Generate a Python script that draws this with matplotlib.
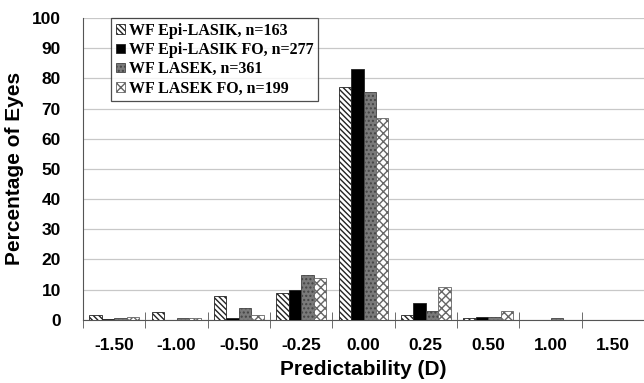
import numpy as np
import matplotlib.pyplot as plt

# Categories and series (percentage of eyes)
categories = ["-1.50", "-1.00", "-0.50", "-0.25", "0.00", "0.25", "0.50", "1.00", "1.50"]
epi_lasik = [1.5, 2.5, 8.0, 9.0, 77.0, 1.5, 0.7, 0.0, 0.0]
epi_lasik_fo = [0.3, 0.0, 0.5, 10.0, 83.0, 5.5, 1.0, 0.0, 0.0]
lasek = [0.5, 0.7, 4.0, 15.0, 75.5, 3.0, 1.0, 0.7, 0.0]
lasek_fo = [0.8, 0.7, 1.5, 14.0, 67.0, 11.0, 3.0, 0.0, 0.0]
labels = ["WF Epi-LASIK, n=163", "WF Epi-LASIK FO, n=277", "WF LASEK, n=361", "WF LASEK FO, n=199"]

plt.rcParams['hatch.linewidth'] = 1.0

fig = plt.figure(figsize=(6.44, 3.83), dpi=100)
ax = fig.add_axes([0.129, 0.165, 0.871, 0.788])

x = np.arange(len(categories))
w = 0.2
series = [epi_lasik, epi_lasik_fo, lasek, lasek_fo]
faces = ['white', 'black', '#7a7a7a', 'white']
hatches = ['\\\\\\\\\\\\', '', '....', 'xxxx']
edges = ['#222222', '#222222', '#444444', '#666666']
for i, (vals, fc, hc, ec, lab) in enumerate(zip(series, faces, hatches, edges, labels)):
    ax.bar(x + (i - 1.5) * w, vals, w, color=fc, edgecolor=ec,
           linewidth=0.6, hatch=hc, label=lab, zorder=3)

ax.set_xlim(-0.5, len(categories) - 0.5)
ax.set_ylim(0, 100)
ax.set_yticks(np.arange(0, 101, 10))
ax.set_xticks(x)
ax.set_xticklabels(categories)
ax.set_xticks(np.arange(-0.5, len(categories) - 0.5, 1), minor=True)
ax.tick_params(axis='x', which='major', length=0, pad=13)
ax.tick_params(axis='x', which='minor', direction='inout', length=12, color='#555555')
ax.tick_params(axis='y', length=0, pad=16)
for t in ax.get_xticklabels() + ax.get_yticklabels():
    t.set_fontweight('bold')
    t.set_fontsize(12.5)
    t.set_family('Liberation Sans')

ax.grid(axis='y', color='#c8c8c8', linewidth=0.9, zorder=0)
ax.spines['top'].set_visible(False)
ax.spines['right'].set_visible(False)
ax.spines['left'].set_color('#555555')
ax.spines['bottom'].set_color('#555555')

ax.set_ylabel("Percentage of Eyes", fontsize=15, fontweight='bold', family='Liberation Sans', labelpad=6)
ax.set_xlabel("Predictability (D)", fontsize=15, fontweight='bold', family='Liberation Sans', labelpad=5)

leg = ax.legend(loc='upper left', bbox_to_anchor=(0.05, 1.0), frameon=True, fancybox=False,
                prop={'family': 'Liberation Serif', 'weight': 'bold', 'size': 11.5},
                handlelength=0.55, handleheight=0.55, handletextpad=0.25, labelspacing=0.2,
                borderpad=0.3, borderaxespad=0.0)
leg.get_frame().set_edgecolor('#222222')
leg.get_frame().set_linewidth(0.9)

fig.savefig("out.png", dpi=100)
